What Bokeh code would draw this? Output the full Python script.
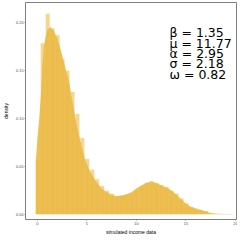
from bokeh.plotting import figure
from bokeh.embed import file_html
from bokeh.resources import INLINE
from bokeh.models import Range1d, Label, FixedTicker

# histogram bins (left edges) and heights (density)
bin_left = [-0.2, 0.3, 0.8, 1.3, 1.8, 2.3, 2.8, 3.3, 3.8, 4.3, 4.8, 5.3, 5.8, 6.3, 6.8, 7.3,
            7.8, 8.3, 8.8, 9.3, 9.8, 10.3, 10.8, 11.3, 11.8, 12.3, 12.8, 13.3, 13.8, 14.3,
            14.8, 15.3, 15.8, 16.3, 16.8, 17.3, 17.8, 18.3, 18.8, 19.3]
bin_height = [0.057, 0.1785, 0.2095, 0.194, 0.187, 0.162, 0.150, 0.128, 0.105, 0.080,
              0.058, 0.047, 0.037, 0.030, 0.025, 0.022, 0.018, 0.020, 0.021, 0.022,
              0.026, 0.030, 0.033, 0.035, 0.033, 0.031, 0.029, 0.025, 0.022, 0.017,
              0.012, 0.008, 0.006, 0.005, 0.004, 0.002, 0.001, 0.0006, 0.0004, 0.0003]
bin_width = 0.5

# kernel density curve
dens_x = [-0.15, -0.15, 0.0, 0.2, 0.37, 0.53, 0.69, 1.0, 1.3, 1.6, 2.0, 2.4, 2.8, 3.2, 3.6,
          4.0, 4.4, 4.8, 5.2, 5.6, 6.0, 6.5, 7.0, 7.5, 8.0, 8.5, 9.0, 9.5, 10.0, 10.5, 11.0,
          11.5, 12.0, 12.5, 13.0, 13.5, 14.0, 14.5, 15.0, 15.5, 16.0, 16.5, 17.0, 17.5, 18.0,
          19.0, 19.75, 19.75]
dens_y = [0, 0.055, 0.078, 0.100, 0.125, 0.157, 0.177, 0.192, 0.195, 0.192, 0.184, 0.170,
          0.154, 0.138, 0.114, 0.092, 0.074, 0.058, 0.047, 0.040, 0.033, 0.027, 0.023, 0.020,
          0.019, 0.0195, 0.021, 0.023, 0.027, 0.030, 0.033, 0.034, 0.0325, 0.030, 0.028,
          0.025, 0.021, 0.016, 0.011, 0.008, 0.006, 0.0045, 0.003, 0.0012, 0.0006, 0.0003,
          0.0002, 0]

params = ["\u03b2 = 1.35", "\u03bc = 11.77", "\u03b1 = 2.95", "\u03c3 = 2.18", "\u03c9 = 0.82"]

x_ticks = [0, 5, 10, 15, 20]
y_ticks = [0.00, 0.05, 0.10, 0.15, 0.20]
y_tick_labels = {0.0: "0.00", 0.05: "0.05", 0.1: "0.10", 0.15: "0.15", 0.2: "0.20"}

X0, X1 = -1.188, 20.1
Y0, Y1 = -0.0054, 0.2206

p = figure(width=237, height=237, output_backend="svg", toolbar_location=None,
           x_range=Range1d(X0, X1), y_range=Range1d(Y0, Y1),
           min_border_left=21, min_border_right=1, min_border_top=2, min_border_bottom=12)
p.background_fill_color = "white"
p.border_fill_color = "white"
p.outline_line_color = "#7F7F7F"
p.outline_line_width = 1
p.xgrid.grid_line_color = None
p.ygrid.grid_line_color = None

bin_right = [b + bin_width for b in bin_left]
p.quad(left=bin_left, right=bin_right, bottom=0, top=bin_height,
       fill_color="#F5D795", fill_alpha=1.0, line_color="white", line_width=0.8)
p.varea(x=dens_x, y1=[0] * len(dens_x), y2=dens_y, fill_color="#EBB944", fill_alpha=0.9)

for ax in (p.xaxis[0], p.yaxis[0]):
    ax.axis_line_color = None
    ax.major_tick_line_color = "#7F7F7F"
    ax.major_tick_out = 1
    ax.major_tick_in = 0
    ax.minor_tick_line_color = None
    ax.major_label_text_font = "Liberation Sans"
    ax.major_label_text_font_size = "3.8px"
    ax.major_label_text_color = "#4D4D4D"
    ax.major_label_standoff = 1
    ax.axis_label_text_font = "Liberation Sans"
    ax.axis_label_text_font_style = "normal"
    ax.axis_label_text_font_size = "5px"
    ax.axis_label_text_color = "black"
    ax.axis_label_standoff = 1

p.xaxis.ticker = FixedTicker(ticks=x_ticks)
p.yaxis.ticker = FixedTicker(ticks=y_ticks)
p.yaxis.major_label_overrides = y_tick_labels
p.xaxis.axis_label = "simulated income data"
p.yaxis.axis_label = "density"
p.yaxis.axis_label_standoff = 4

top_v = 0.1892
step_v = 10.7 / 988
for i, t in enumerate(params):
    p.add_layout(Label(x=13.34, y=top_v - i * step_v, text=t, text_font="DejaVu Sans",
                       text_font_size="12.5px", text_baseline="middle", text_align="left",
                       text_color="black"))

open("out.html", "w").write(file_html(p, INLINE))
